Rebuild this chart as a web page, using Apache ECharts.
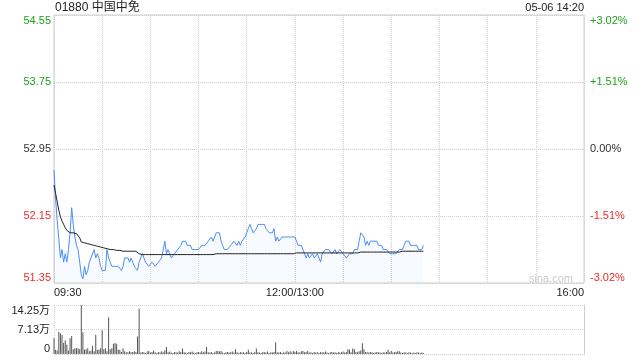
<!DOCTYPE html>
<html><head><meta charset="utf-8">
<script src="https://cdn.jsdelivr.net/npm/echarts@6/dist/echarts.min.js"></script>
<style>html,body{margin:0;padding:0;background:#fff}#c{width:640px;height:360px}</style>
</head><body><div id="c"></div>
<script>
const stockTitle = '01880 中国中免';
const timeStamp = '05-06 14:20';
const prevClose = 52.95;
const priceTickLabels = ['51.35', '52.15', '52.95', '53.75', '54.55'];
const pctTickLabels = ['-3.02%', '-1.51%', '0.00%', '+1.51%', '+3.02%'];
const volTickLabels = ['0', '7.13万', '14.25万'];
const timeLabels = { 0: '09:30', 150: '12:00/13:00', 330: '16:00' };

// minute prices from 09:30 (index 0) to 14:20
const prices = [
52.70,52.35,52.10,52.10,51.65,51.75,51.60,51.70,51.60,51.75,
51.95,52.25,52.05,51.90,51.80,51.75,51.60,51.45,51.40,51.55,
51.45,51.50,51.60,51.65,51.65,51.75,51.65,51.70,51.65,51.55,
51.50,51.50,51.50,51.75,51.65,51.60,51.55,51.55,51.55,51.55,
51.55,51.55,51.50,51.55,51.65,51.65,51.65,51.60,51.65,51.60,
51.55,51.55,51.50,51.60,51.65,51.70,51.70,51.60,51.60,51.55,
51.55,51.60,51.60,51.55,51.55,51.60,51.60,51.65,51.65,51.85,
51.70,51.75,51.70,51.65,51.65,51.70,51.70,51.75,51.75,51.80,
51.85,51.85,51.85,51.80,51.80,51.80,51.75,51.75,51.75,51.75,
51.75,51.75,51.80,51.80,51.80,51.80,51.85,51.85,51.90,51.85,
51.90,51.95,51.95,51.95,51.85,51.80,51.75,51.75,51.75,51.75,
51.80,51.80,51.85,51.85,51.80,51.85,51.80,51.85,51.85,51.90,
51.95,52.00,52.05,52.00,51.95,51.95,52.00,52.05,52.05,52.05,
52.05,52.05,52.00,52.00,51.95,51.95,51.95,52.00,51.85,51.90,
51.85,51.85,51.90,51.90,51.90,51.90,51.90,51.90,51.90,51.90,
51.90,51.85,51.80,51.80,51.80,51.75,51.70,51.65,51.70,51.65,
51.65,51.70,51.65,51.65,51.70,51.65,51.60,51.70,51.70,51.75,
51.75,51.75,51.75,51.70,51.70,51.75,51.70,51.70,51.75,51.75,
51.70,51.70,51.65,51.65,51.70,51.70,51.70,51.75,51.75,51.75,
51.85,51.95,51.95,51.90,51.80,51.85,51.80,51.85,51.85,51.85,
51.85,51.85,51.80,51.80,51.80,51.75,51.75,51.75,51.75,51.70,
51.70,51.70,51.70,51.70,51.70,51.75,51.75,51.75,51.80,51.85,
51.85,51.85,51.80,51.80,51.80,51.80,51.80,51.75,51.75,51.75,
51.80
];

// average price line
const avgPrices = [
52.52,52.42,52.32,52.22,52.14,52.09,52.05,52.01,51.98,51.96,
51.95,51.95,51.95,51.94,51.94,51.92,51.89,51.84,51.83,51.83,
51.83,51.82,51.82,51.81,51.81,51.80,51.80,51.79,51.79,51.78,
51.77,51.77,51.76,51.76,51.75,51.75,51.75,51.75,51.74,51.74,
51.74,51.74,51.74,51.73,51.73,51.73,51.73,51.73,51.73,51.73,
51.73,51.73,51.72,51.70,51.69,51.69,51.69,51.69,51.69,51.69,
51.69,51.69,51.69,51.69,51.69,51.69,51.69,51.69,51.69,51.69,
51.69,51.69,51.69,51.69,51.69,51.69,51.69,51.69,51.69,51.69,
51.69,51.69,51.69,51.69,51.69,51.69,51.69,51.69,51.69,51.69,
51.69,51.69,51.69,51.69,51.69,51.69,51.69,51.69,51.69,51.69,
51.69,51.70,51.70,51.70,51.70,51.70,51.70,51.70,51.70,51.70,
51.70,51.70,51.70,51.70,51.70,51.70,51.70,51.70,51.70,51.70,
51.70,51.70,51.70,51.70,51.70,51.70,51.70,51.70,51.70,51.70,
51.70,51.70,51.70,51.70,51.70,51.70,51.70,51.70,51.70,51.70,
51.70,51.70,51.70,51.70,51.70,51.70,51.70,51.70,51.70,51.70,
51.70,51.71,51.71,51.71,51.71,51.71,51.71,51.71,51.71,51.71,
51.71,51.71,51.71,51.71,51.71,51.71,51.71,51.71,51.71,51.71,
51.71,51.71,51.71,51.71,51.71,51.71,51.71,51.71,51.71,51.71,
51.71,51.71,51.71,51.71,51.71,51.71,51.71,51.71,51.71,51.71,
51.71,51.72,51.72,51.72,51.72,51.72,51.72,51.72,51.72,51.72,
51.72,51.72,51.72,51.72,51.72,51.72,51.72,51.72,51.72,51.72,
51.72,51.72,51.72,51.72,51.72,51.72,51.73,51.73,51.73,51.73,
51.73,51.73,51.73,51.73,51.73,51.73,51.73,51.73,51.73,51.73,
51.73
];

// minute volume, in 万股
const volumes = [
4.6,1.2,1.0,6.5,6.0,5.5,3.2,4.0,2.7,1.0,
4.6,5.2,1.4,1.7,1.7,1.7,1.4,14.2,6.3,1.2,
1.4,1.7,0.8,1.0,2.4,0.8,5.6,1.2,1.2,1.7,
6.9,1.4,1.7,0.8,10.6,1.4,1.7,3.0,3.2,3.0,
1.2,1.2,0.6,1.7,0.8,0.5,0.5,0.8,0.5,0.6,
0.8,0.6,5.1,13.2,0.4,0.6,0.5,0.3,0.7,0.9,
0.4,0.6,1.0,0.5,0.3,0.6,0.4,0.8,0.5,1.1,
2.0,0.5,0.7,0.4,0.3,0.6,0.5,0.4,0.8,0.6,
1.6,0.5,0.4,0.3,0.6,0.5,0.7,0.4,0.3,0.5,
0.6,0.4,0.8,0.5,0.7,2.0,0.5,0.4,0.6,0.3,
0.5,0.9,0.9,0.7,0.9,0.4,0.3,0.5,0.6,0.4,
0.5,0.7,0.4,1.4,0.5,0.3,0.6,0.4,0.5,0.3,
0.6,1.2,0.4,0.5,0.3,0.6,1.6,0.5,0.4,0.3,
0.6,0.5,0.4,0.7,0.3,0.5,0.4,0.6,3.4,0.5,
0.4,0.6,0.3,0.5,0.4,0.9,0.5,0.8,0.4,0.9,
0.6,0.9,0.5,0.4,0.8,0.9,0.5,0.6,0.9,0.4,
0.5,0.3,0.6,0.4,0.5,0.3,0.6,0.4,0.5,0.7,
0.4,0.3,0.5,0.6,0.4,0.5,0.3,0.6,0.4,0.5,
0.7,0.4,0.6,1.4,1.2,0.5,1.6,1.4,0.6,0.5,
0.8,1.0,3.1,1.4,0.6,0.5,0.4,0.6,0.5,0.3,
0.4,0.6,0.5,0.4,0.3,0.5,0.4,0.6,1.2,0.5,
0.9,0.4,0.5,0.6,0.8,0.8,0.4,0.3,0.5,0.4,
0.3,0.5,0.4,0.3,0.4,0.3,0.5,0.4,0.3,0.4,
0.3
];

const GREEN = '#1fa31f', RED = '#ee2a2a', DARK = '#333';
const toPct = p => (p - prevClose) / prevClose * 100;
const tickColor = (v, i) => i > 2 ? GREEN : (i === 2 ? DARK : RED);
const FONT = '"Liberation Sans", Arial, "Noto Sans CJK SC", sans-serif';
const dotted = { type: 'dotted', color: '#cfcfcf', width: 1 };

const chart = echarts.init(document.getElementById('c'), null, { renderer: 'canvas' });
chart.setOption({
  animation: false,
  backgroundColor: '#fff',
  textStyle: { fontFamily: FONT },
  title: [
    { text: stockTitle, left: 55, top: 1, padding: 0,
      textStyle: { fontSize: 12, lineHeight: 14, fontWeight: 'normal', color: '#222', fontFamily: FONT } },
    { text: timeStamp, right: 56, top: 1, padding: 0,
      textStyle: { fontSize: 11, lineHeight: 13, fontWeight: 'normal', color: '#222', fontFamily: FONT } }
  ],
  graphic: [
    { type: 'text', right: 67, top: 273, silent: true,
      style: { text: 'sina.com', fill: '#cccccc', fontSize: 11, fontFamily: FONT } }
  ],
  grid: [
    { left: 54, right: 56, top: 15, height: 268, show: true, borderColor: '#cccccc', borderWidth: 1 },
    { left: 54, right: 56, top: 305, height: 49 }
  ],
  xAxis: [
    { gridIndex: 0, type: 'value', min: 0, max: 330, interval: 30,
      axisLine: { show: false }, axisTick: { show: false },
      splitLine: { show: true, lineStyle: dotted },
      axisLabel: { formatter: v => timeLabels[v] || '', fontSize: 11, color: '#222', margin: 4,
        alignMinLabel: 'left', alignMaxLabel: 'right', showMinLabel: true, showMaxLabel: true } },
    { gridIndex: 1, type: 'value', min: 0, max: 330, interval: 330,
      axisLine: { show: false }, axisTick: { show: false }, axisLabel: { show: false },
      splitLine: { show: true, lineStyle: dotted } }
  ],
  yAxis: [
    { gridIndex: 0, type: 'value', position: 'left', min: -3.02, max: 3.02, interval: 1.51,
      axisLine: { show: false }, axisTick: { show: false },
      splitLine: { show: true, lineStyle: dotted },
      axisLabel: { formatter: (v, i) => priceTickLabels[i], color: tickColor, fontSize: 11, margin: 3,
        verticalAlignMinLabel: 'bottom', verticalAlignMaxLabel: 'top' } },
    { gridIndex: 0, type: 'value', position: 'right', min: -3.02, max: 3.02, interval: 1.51,
      axisLine: { show: false }, axisTick: { show: false }, splitLine: { show: false },
      axisLabel: { formatter: (v, i) => pctTickLabels[i], color: tickColor, fontSize: 11, margin: 6,
        verticalAlignMinLabel: 'bottom', verticalAlignMaxLabel: 'top' } },
    { gridIndex: 1, type: 'value', position: 'left', min: 0, max: 14.25, interval: 7.125,
      axisLine: { show: false }, axisTick: { show: false },
      splitLine: { show: true, lineStyle: dotted },
      axisLabel: { formatter: (v, i) => volTickLabels[i], color: '#222', fontSize: 11, margin: 4,
        verticalAlignMinLabel: 'bottom', verticalAlignMaxLabel: 'top' } },
    { gridIndex: 1, type: 'value', position: 'right', min: 0, max: 14.25,
      axisLine: { show: true, lineStyle: { color: '#cccccc' } }, axisTick: { show: false },
      axisLabel: { show: false }, splitLine: { show: false } }
  ],
  series: [
    { type: 'line', xAxisIndex: 0, yAxisIndex: 0, silent: true, showSymbol: false,
      data: prices.map((p, i) => [i, toPct(p)]),
      lineStyle: { color: '#4d8ef6', width: 1 },
      areaStyle: { color: 'rgba(77,142,246,0.06)', origin: 'start' } },
    { type: 'line', xAxisIndex: 0, yAxisIndex: 0, silent: true, showSymbol: false,
      data: avgPrices.map((p, i) => [i, toPct(p)]),
      lineStyle: { color: '#222', width: 1 } },
    { type: 'bar', xAxisIndex: 1, yAxisIndex: 2, silent: true, barWidth: 1,
      data: volumes.map((v, i) => [i, v]),
      itemStyle: { color: '#555' } }
  ]
});
</script></body></html>
